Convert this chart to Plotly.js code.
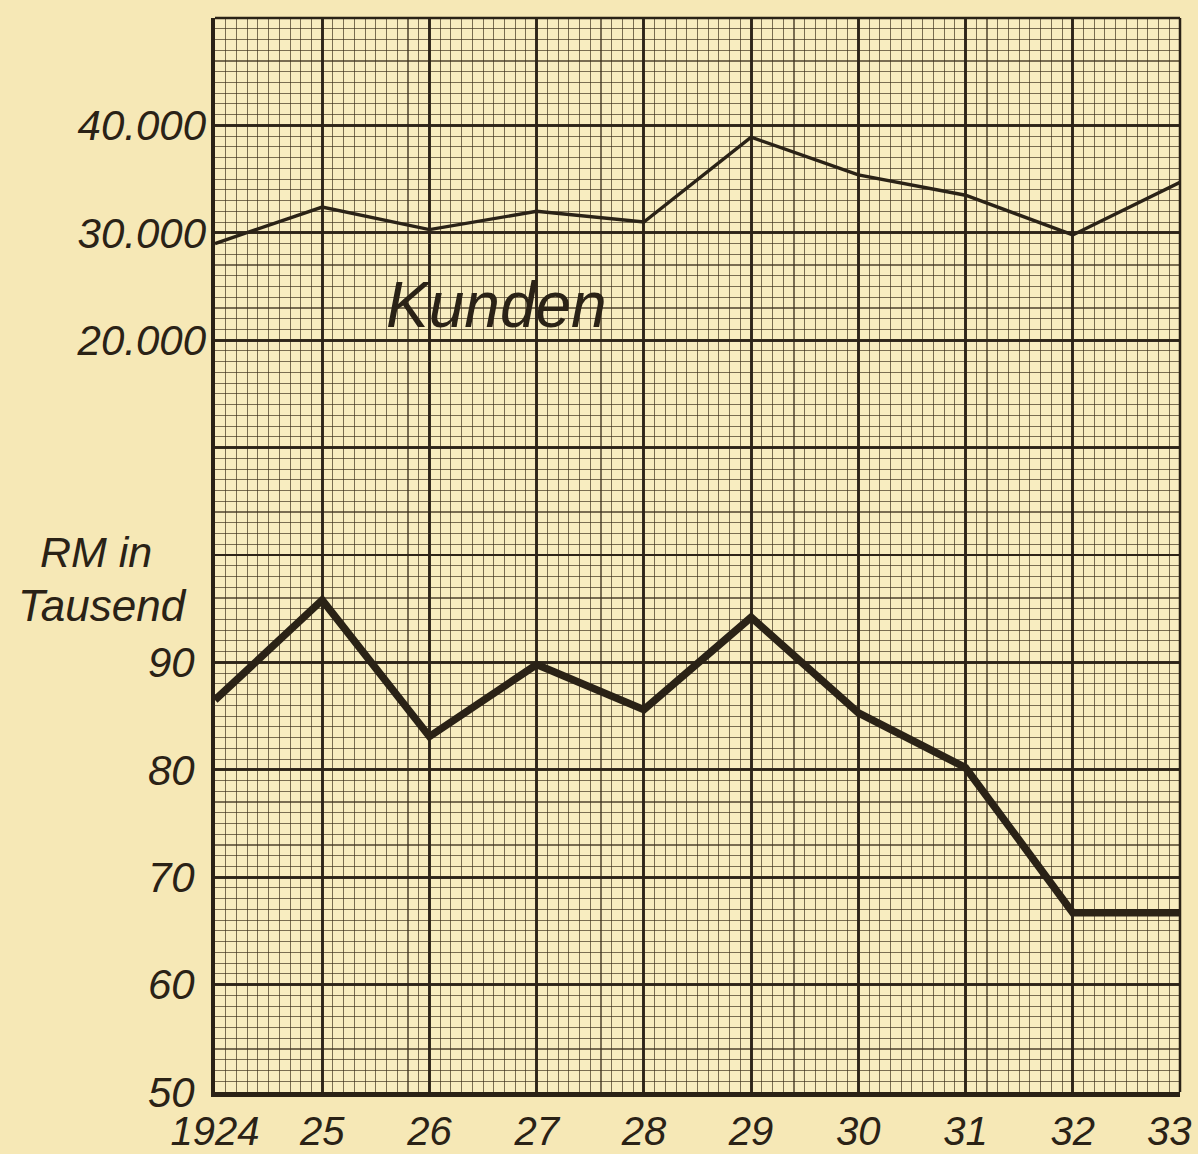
<!DOCTYPE html>
<html>
<head>
<meta charset="utf-8">
<script src="https://cdn.plot.ly/plotly-3.0.1.min.js"></script>
<style>html,body{margin:0;padding:0;background:#f6e8b6;}</style>
</head>
<body>
<div id="chart" style="width:1198px;height:1154px;"></div>
<script>
// Years (x) and tick labels
const years = [1924, 1925, 1926, 1927, 1928, 1929, 1930, 1931, 1932, 1933];
const yearLabels = ['1924', '25', '26', '27', '28', '29', '30', '31', '32', '33'];

// Umsatz in RM (Tausend) – lower heavy line
const umsatzRM = [86.5, 95.8, 83.1, 89.8, 85.6, 94.2, 85.3, 80.2, 66.7, 66.7];

// Kunden (Anzahl) – upper thin line
const kunden = [29000, 32400, 30300, 32000, 31000, 38900, 35400, 33500, 29800, 34700];

// Axis tick values / labels
const rmTickVals = [50, 60, 70, 80, 90, 100, 110, 120, 130, 140, 150];
const rmTickText = ['50', '60', '70', '80', '90', '', '', '', '', '', ''];
const kundenTickVals = [20000, 30000, 40000];
const kundenTickText = ['20.000', '30.000', '40.000'];

const ink = '#2a2216';
const fontFam = 'Liberation Sans, DejaVu Sans, sans-serif';
const yTickFont = {family: fontFam, size: 42, color: ink, style: 'italic'};
const xTickFont = {family: fontFam, size: 40, color: ink, style: 'italic'};
const majorGrid = 'rgba(42,34,22,0.95)';
const minorGrid = 'rgba(60,48,28,0.68)';

// last year label sits at the right edge: drawn as an annotation aligned to the right
const lastIdx = years.length - 1;
const xTickText = yearLabels.map((t, i) => (i === lastIdx ? '' : t));

const traces = [
  {
    x: years, y: kunden, yaxis: 'y2', type: 'scatter', mode: 'lines',
    line: {color: ink, width: 3.4}, hoverinfo: 'skip', showlegend: false
  },
  {
    x: years, y: umsatzRM, yaxis: 'y', type: 'scatter', mode: 'lines',
    line: {color: ink, width: 7.5}, hoverinfo: 'skip', showlegend: false
  }
];

const layout = {
  width: 1198, height: 1154,
  margin: {l: 215, r: 18, t: 18, b: 62},
  paper_bgcolor: '#f6e8b6',
  plot_bgcolor: '#f8edc0',
  showlegend: false,
  xaxis: {
    range: [1924, 1933], tickmode: 'array', tickvals: years, ticktext: xTickText,
    tickfont: xTickFont, ticks: '', ticklabelstandoff: 0,
    showgrid: true, gridcolor: majorGrid, gridwidth: 2.8,
    minor: {dtick: 0.1, showgrid: true, gridcolor: minorGrid, gridwidth: 1.1, ticks: ''},
    showline: true, linecolor: ink, linewidth: 5, zeroline: false, fixedrange: true
  },
  yaxis: {
    range: [50, 150], tickmode: 'array', tickvals: rmTickVals, ticktext: rmTickText,
    tickfont: yTickFont, ticks: '', ticklabelstandoff: 8,
    showgrid: true, gridcolor: majorGrid, gridwidth: 2.8,
    minor: {dtick: 1, showgrid: true, gridcolor: minorGrid, gridwidth: 1.1, ticks: ''},
    showline: true, linecolor: ink, linewidth: 4, zeroline: false, fixedrange: true
  },
  yaxis2: {
    range: [-50000, 50000], overlaying: 'y', side: 'left', anchor: 'x',
    tickmode: 'array', tickvals: kundenTickVals, ticktext: kundenTickText,
    tickfont: yTickFont, ticks: '', ticklabelstandoff: 8,
    showgrid: false, zeroline: false, showline: false, fixedrange: true
  },
  shapes: [
    {type: 'line', xref: 'paper', yref: 'paper', x0: 0, x1: 1, y0: 1, y1: 1, line: {color: ink, width: 2.5}},
    {type: 'line', xref: 'paper', yref: 'paper', x0: 1, x1: 1, y0: 0, y1: 1, line: {color: ink, width: 2.5}}
  ],
  annotations: [
    {text: yearLabels[lastIdx], x: years[lastIdx], y: 0, xref: 'x', yref: 'paper',
     xanchor: 'right', yanchor: 'top', xshift: 14, yshift: -15, showarrow: false,
     font: xTickFont},
    {text: 'Kunden', x: 1926.63, y: 123.3, xref: 'x', yref: 'y', showarrow: false,
     font: {family: fontFam, size: 64, color: ink, style: 'italic'}},
    {text: 'RM in', x: -0.123, y: 100.3, xref: 'paper', yref: 'y', showarrow: false,
     xanchor: 'center', font: {family: fontFam, size: 43, color: ink, style: 'italic'}},
    {text: 'Tausend', x: -0.117, y: 95.3, xref: 'paper', yref: 'y', showarrow: false,
     xanchor: 'center', font: {family: fontFam, size: 44, color: ink, style: 'italic'}}
  ]
};

Plotly.newPlot('chart', traces, layout, {staticPlot: true, displayModeBar: false});
</script>
</body>
</html>
